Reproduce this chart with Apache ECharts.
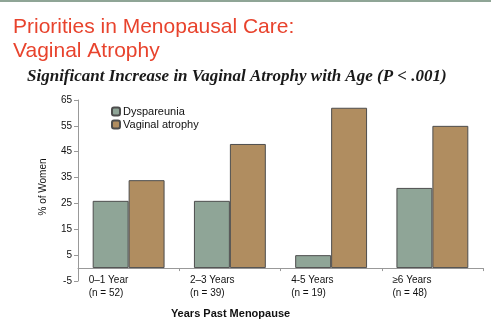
<!DOCTYPE html>
<html><head><meta charset="utf-8">
<script src="https://cdn.jsdelivr.net/npm/echarts@6/dist/echarts.min.js"></script>
<style>html,body{margin:0;padding:0;background:#fff}#c{width:491px;height:326px}</style>
</head><body><div id="c"></div>
<script>
const categories = ['0–1 Year', '2–3 Years', '4-5 Years', '≥6 Years'];
const sampleSizes = ['(n = 52)', '(n = 39)', '(n = 19)', '(n = 48)'];
const dyspareunia = [26, 26, 5, 31];
const vaginalAtrophy = [34, 48, 62, 55];
const yTicks = [-5, 5, 15, 25, 35, 45, 55, 65];

const chart = echarts.init(document.getElementById('c'));
const catLabels = categories.map((c, i) => c + '\n' + sampleSizes[i]);
chart.setOption({
  animation: false,
  backgroundColor: '#fff',
  textStyle: { fontFamily: 'Liberation Sans, Arial, sans-serif' },
  graphic: [{ type: 'rect', shape: { x: 0, y: 0, width: 491, height: 2 }, style: { fill: '#8fa596' } }],
  title: [
    { text: 'Priorities in Menopausal Care:\nVaginal Atrophy', left: 8, top: 10,
      textStyle: { color: '#e8432d', fontSize: 21, fontWeight: 'normal', lineHeight: 24, fontFamily: 'Liberation Sans, Arial, sans-serif' } },
    { text: 'Significant Increase in Vaginal Atrophy with Age (P < .001)', left: 22, top: 63,
      textStyle: { color: '#1a1a1a', fontSize: 17, fontWeight: 'bold', fontStyle: 'italic', fontFamily: 'Liberation Serif, Times New Roman, serif' } }
  ],
  legend: {
    orient: 'vertical', left: 106, top: 101, itemWidth: 8, itemHeight: 8, itemGap: 2,
    textStyle: { fontSize: 11, color: '#111', padding: [0, 0, 0, -2] },
    data: ['Dyspareunia', 'Vaginal atrophy']
  },
  grid: { left: 78, right: 8, top: 100, bottom: 45, containLabel: false, outerBoundsMode: 'none' },
  xAxis: {
    type: 'category', data: catLabels,
    axisLine: { onZero: true, lineStyle: { color: '#999', width: 1 } },
    axisTick: { show: true, length: 3, lineStyle: { color: '#999' } },
    axisLabel: {
      margin: -7,
      formatter: v => v.split('\n').map(s => '{a|' + s + '}').join('\n'),
      rich: { a: { width: 80, align: 'left', fontSize: 10, color: '#111', lineHeight: 13 } }
    },
    name: 'Years Past Menopause', nameLocation: 'middle', nameGap: 27,
    nameTextStyle: { fontSize: 11, fontWeight: 'bold', color: '#111', padding: [0, 100, 0, 0] }
  },
  yAxis: {
    type: 'value', min: -5, max: 65, interval: 5,
    axisLine: { show: true, lineStyle: { color: '#999' } },
    axisTick: { show: true, length: 4, customValues: yTicks, lineStyle: { color: '#999' } },
    axisLabel: { customValues: yTicks, fontSize: 10, color: '#111', margin: 6 },
    splitLine: { show: false },
    name: '% of Women', nameLocation: 'middle', nameGap: 30, nameRotate: 90,
    nameTextStyle: { fontSize: 10, color: '#111', padding: [0, 0, 0, 7] }
  },
  series: [
    { name: 'Dyspareunia', type: 'bar', data: dyspareunia, barGap: '0%', barCategoryGap: '29%',
      itemStyle: { color: '#8fa597', borderColor: '#4d4d4d', borderWidth: 1 } },
    { name: 'Vaginal atrophy', type: 'bar', data: vaginalAtrophy,
      itemStyle: { color: '#b08d60', borderColor: '#4d4d4d', borderWidth: 1 } }
  ]
});
</script></body></html>
